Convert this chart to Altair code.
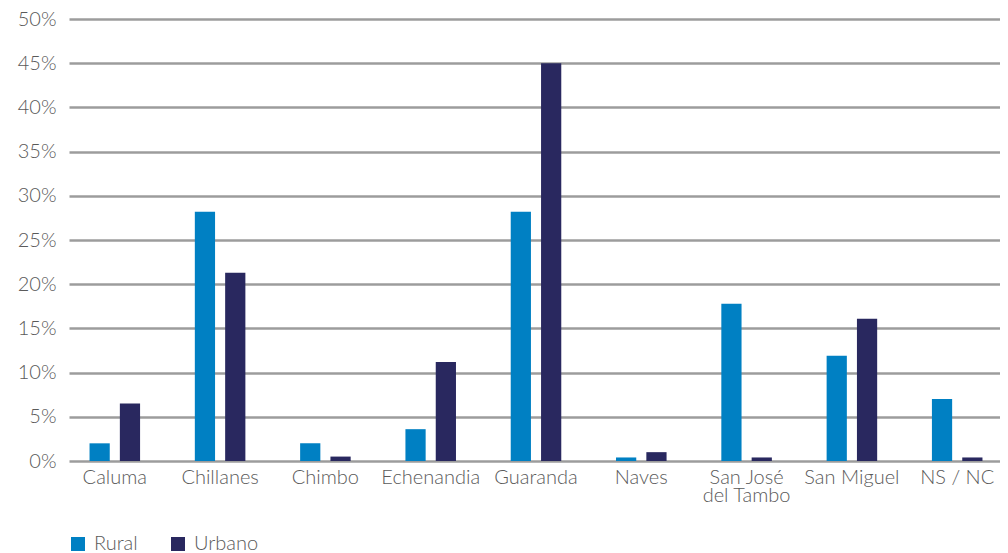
import altair as alt
import pandas as pd

categories = ["Caluma", "Chillanes", "Chimbo", "Echenandia", "Guaranda", "Naves",
              "San José del Tambo", "San Miguel", "NS / NC"]
rural = [2.0, 28.2, 2.0, 3.6, 28.2, 0.4, 17.8, 11.9, 7.0]
urbano = [6.5, 21.3, 0.5, 11.2, 45.0, 1.0, 0.4, 16.1, 0.4]
series = ["Rural", "Urbano"]
colors = ["#0080C3", "#29285F"]

rows = []
for c, r, u in zip(categories, rural, urbano):
    rows.append({"cat": c, "serie": "Rural", "v": r / 100})
    rows.append({"cat": c, "serie": "Urbano", "v": u / 100})
df = pd.DataFrame(rows)

FONT = "Lato"
GREY = "#5a5a5a"

chart = alt.Chart(df).mark_bar().encode(
    x=alt.X("cat:N", sort=categories, title=None,
            scale=alt.Scale(paddingInner=0.52, paddingOuter=0.195, range=[3, 937]),
            axis=alt.Axis(labelAngle=0, domain=False, ticks=False, grid=False, labelPadding=6,
                          labelFont=FONT, labelFontSize=20, labelFontWeight=300,
                          labelColor=GREY, labelLineHeight=18,
                          labelExpr="datum.value == 'San José del Tambo' ? ['San José', 'del Tambo'] : datum.value")),
    xOffset=alt.XOffset("serie:N", sort=series, scale=alt.Scale(paddingInner=0.333, paddingOuter=0)),
    y=alt.Y("v:Q", title=None,
            scale=alt.Scale(domain=[0, 0.5], nice=False),
            axis=alt.Axis(format=".0%", values=[i * 0.05 for i in range(11)],
                          domain=False, ticks=False, labelPadding=10,
                          labelFont=FONT, labelFontSize=20, labelFontWeight=300,
                          labelColor=GREY, grid=True, gridColor="#9c9c9c",
                          gridWidth=2.5)),
    color=alt.Color("serie:N", sort=series,
                    scale=alt.Scale(domain=series, range=colors),
                    legend=alt.Legend(title=None, orient="none", legendX=2, legendY=515,
                                      direction="horizontal", symbolType="square",
                                      symbolSize=196, symbolStrokeWidth=0,
                                      labelFont=FONT, labelFontSize=20, labelFontWeight=300,
                                      labelColor=GREY, labelOffset=6, columnPadding=30)),
).properties(
    width=934, height=442,
    background="white",
    autosize=alt.AutoSizeParams(type="none"),
    padding={"left": 58, "top": 11, "right": 0, "bottom": 92},
).configure_view(stroke=None, strokeWidth=0)

chart.save("out.html", embed_options={"renderer": "svg", "actions": False})
